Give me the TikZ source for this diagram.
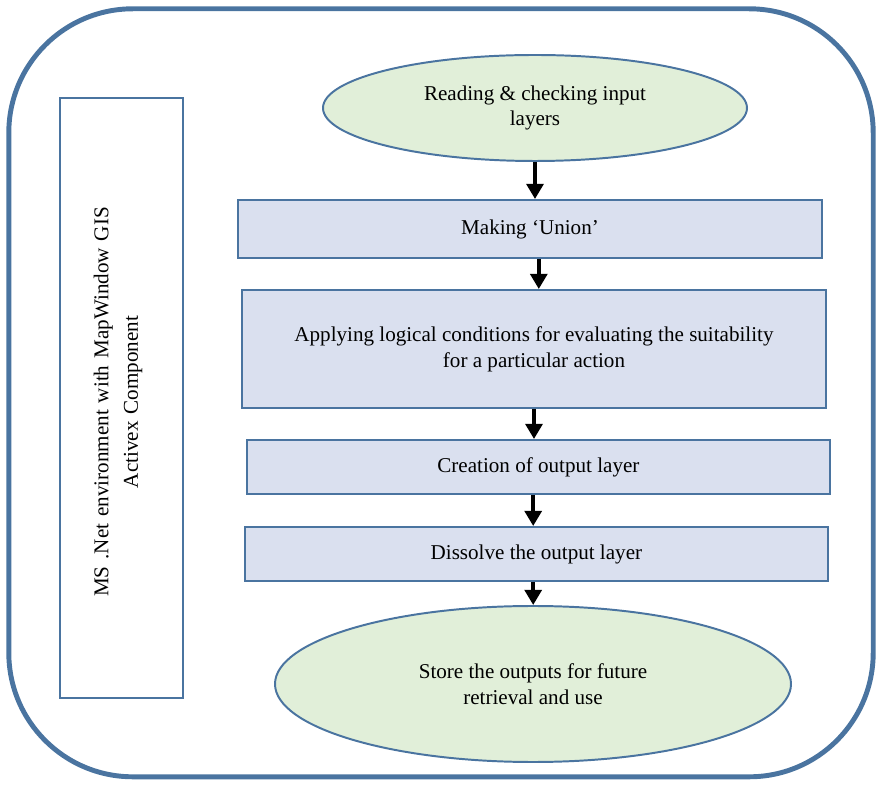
\documentclass[tikz,border=0pt]{standalone}
\usepackage{fontspec}
\setmainfont{Liberation Serif}
\usepackage{tikz}
\usetikzlibrary{arrows.meta, positioning, shapes.geometric}

\definecolor{frameblue}{RGB}{74,116,160}
\definecolor{boxfill}{RGB}{218,224,239}
\definecolor{ovalfill}{RGB}{225,239,217}

\begin{document}
\begin{tikzpicture}[
  stepbox/.style={rectangle, draw=frameblue, fill=boxfill, line width=1.4pt,
                  minimum width=14.6cm, minimum height=#1, inner sep=0pt,
                  align=center, font=\fontsize{15}{18.4}\selectfont},
  terminal/.style={ellipse, draw=frameblue, fill=ovalfill, line width=1.4pt,
                   inner sep=0pt, align=center,
                   font=\fontsize{15}{18.4}\selectfont},
  envbox/.style={rectangle, draw=frameblue, fill=white, line width=1.4pt,
                 minimum width=3.075cm, minimum height=15cm, inner sep=0pt},
  arr/.style={line width=2.8pt, -{Triangle[length=0.38cm, width=0.42cm]}}
]

\useasboundingbox (0,0) rectangle (22,19.6);

% --- Outer frame ---
\draw[frameblue, line width=3.5pt, rounded corners=3.1cm]
  (0.22,0.18) rectangle (21.83,19.38);

% --- Environment box (left) ---
\node[envbox] (env) at (3.04,9.65) {};
\node[rotate=90, align=center, font=\fontsize{15}{21}\selectfont,
      text width=12cm] (envtxt) at (2.95,9.55)
  {MS .Net environment with MapWindow GIS\\Activex Component};

% --- Process chain ---
\node[terminal, minimum width=10.6cm, minimum height=2.65cm] (read)
  at (13.375,16.9) {Reading \& checking input\\layers};
\node[stepbox=1.45cm] (union) at (13.25,13.875) {Making `Union'};
\node[stepbox=2.95cm] (logic) at (13.35,10.875)
  {Applying logical conditions for evaluating the suitability\\
   for a particular action};
\node[stepbox=1.35cm, minimum width=14.575cm] (create) at (13.46,7.925)
  {Creation of output layer};
\node[stepbox=1.35cm, minimum width=14.575cm] (dissolve) at (13.41,5.75)
  {Dissolve the output layer};
\node[terminal, minimum width=12.9cm, minimum height=3.9cm] (store)
  at (13.325,2.5) {Store the outputs for future\\retrieval and use};

% --- Arrows ---
\draw[arr] (read.south) -- (read.south |- union.north);
\draw[arr] ([xshift=0.22cm]union.south) -- ([xshift=0.22cm]union.south |- logic.north);
\draw[arr] (logic.south) -- (logic.south |- create.north);
\draw[arr] ([xshift=-0.13cm]create.south) -- ([xshift=-0.13cm]create.south |- dissolve.north);
\draw[arr] ([xshift=-0.08cm]dissolve.south) -- ([xshift=-0.08cm]dissolve.south |- store.north);

\end{tikzpicture}
\end{document}
